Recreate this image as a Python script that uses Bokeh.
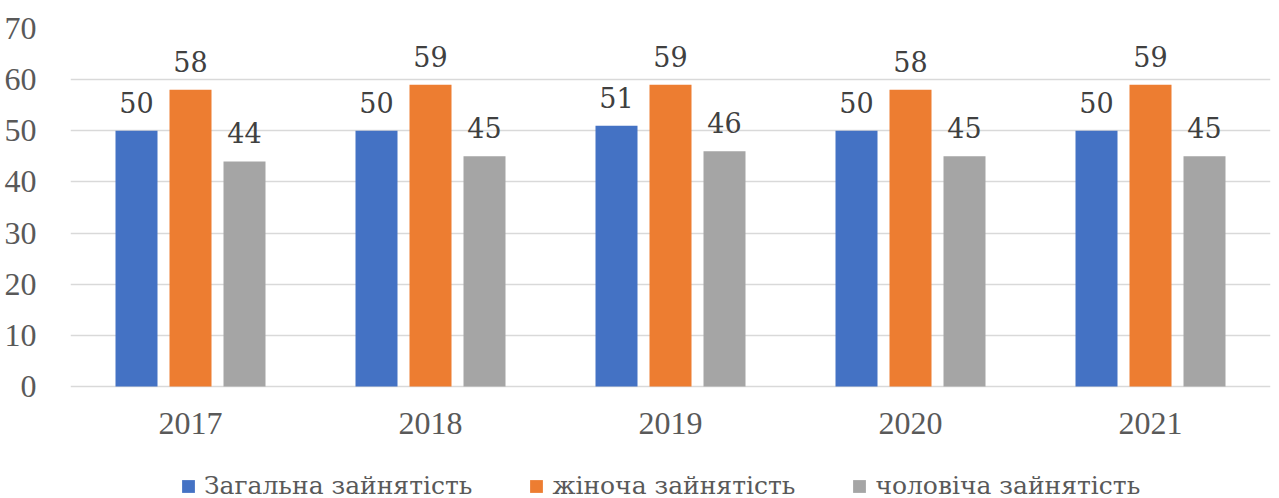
from bokeh.plotting import figure
from bokeh.models import FactorRange, ColumnDataSource, Legend, LegendItem, FixedTicker, LabelSet
from bokeh.transform import dodge
from bokeh.core.properties import value
from bokeh.embed import file_html
from bokeh.resources import INLINE

years = ["2017", "2018", "2019", "2020", "2021"]
total = [50, 50, 51, 50, 50]
female = [58, 59, 59, 58, 59]
male = [44, 45, 46, 45, 45]
series_names = ["Загальна зайнятість", "жіноча зайнятість", "чоловіча зайнятість"]
y_ticks = [0, 10, 20, 30, 40, 50, 60, 70]

colors = ["#4472C4", "#ED7D31", "#A5A5A5"]
keys = ["total", "female", "male"]
offsets = [-0.225, 0.0, 0.225]
FONT = "Liberation Serif"
FONT2 = "DejaVu Serif"
FS = "32px"

src = ColumnDataSource(dict(year=years, total=total, female=female, male=male,
                            total_t=[str(v) for v in total],
                            female_t=[str(v) for v in female],
                            male_t=[str(v) for v in male]))

# frame spans y pixels 28..498; value 0 sits at pixel 386, 70 at pixel 28
y_bottom = -70 * (498 - 386) / (386 - 28)
p = figure(x_range=FactorRange(*years), y_range=(y_bottom, 70), width=1279, height=498,
           output_backend="svg", toolbar_location=None,
           min_border_left=70, min_border_right=9, min_border_top=28, min_border_bottom=0)
p.outline_line_color = None
p.background_fill_color = "white"

items = []
for k, c, off, name in zip(keys, colors, offsets, series_names):
    xs = dodge("year", off, range=p.x_range)
    r = p.vbar(x=xs, top=k, bottom=0, width=0.175, source=src, fill_color=c, line_color=None)
    items.append(LegendItem(label=name, renderers=[r]))
    lab = LabelSet(x=xs, y=k, text=k + "_t", source=src,
                   text_align="center", text_baseline="alphabetic", y_offset=18,
                   text_font=value(FONT2), text_font_size=value("27px"),
                   text_color="#404040")
    p.add_layout(lab)

p.xgrid.grid_line_color = None
p.ygrid.grid_line_color = "#d9d9d9"
p.ygrid.grid_line_width = 1.5
p.yaxis.ticker = FixedTicker(ticks=y_ticks)
for ax in (p.xaxis, p.yaxis):
    ax.axis_line_color = None
    ax.major_tick_line_color = None
    ax.minor_tick_line_color = None
    ax.major_label_text_font = FONT
    ax.major_label_text_font_size = FS
    ax.major_label_text_color = "#595959"
p.yaxis.major_label_standoff = 28
p.xaxis.major_label_standoff = 20
p.xaxis.fixed_location = 0

legend = Legend(items=items, orientation="horizontal", location=(110, -2),
                border_line_color=None, background_fill_alpha=0, padding=0, margin=0,
                glyph_width=16, glyph_height=16, label_standoff=8, spacing=56,
                label_text_font=FONT2, label_text_font_size="25px",
                label_text_color="#595959")
p.add_layout(legend)

open("out.html", "w").write(file_html(p, INLINE))
